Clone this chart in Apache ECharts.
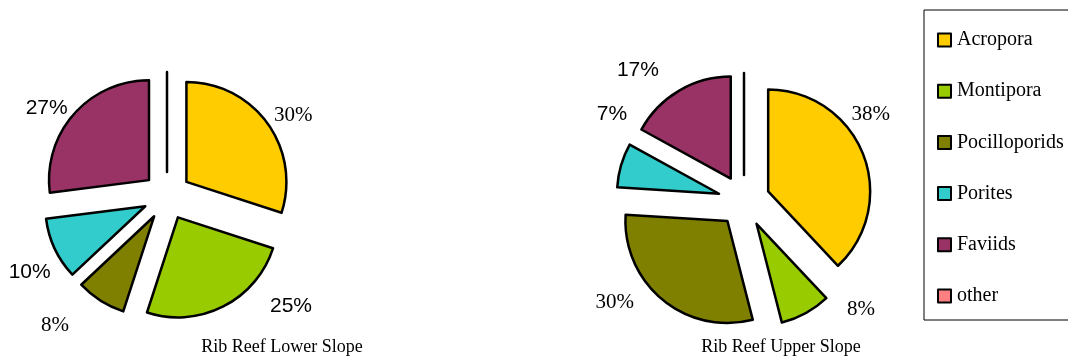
<!DOCTYPE html>
<html>
<head>
<meta charset="utf-8">
<script src="https://cdn.jsdelivr.net/npm/echarts@6/dist/echarts.min.js"></script>
<style>html,body{margin:0;padding:0;background:#fff}#c{width:1068px;height:356px}</style>
</head>
<body>
<div id="c"></div>
<script>
const categories = ['Acropora', 'Montipora', 'Pocilloporids', 'Porites', 'Faviids', 'other'];
const colors = ['#FFCC00', '#99CC00', '#808000', '#33CCCC', '#993366', '#FF8080'];
const lowerSlope = [30, 25, 8, 10, 27, 0];
const upperSlope = [38, 8, 30, 7, 17, 0];
const titles = ['Rib Reef Lower Slope', 'Rib Reef Upper Slope'];
// font of each percentage label, as printed in the source
const lowerLabelFonts = ['serif', 'sans', 'serif', 'sans', 'sans', 'sans'];
const upperLabelFonts = ['serif', 'serif', 'serif', 'sans', 'sans', 'sans'];
// label placement (style): [radial leader length, horizontal leader length] per slice
const lowerLabelPlace = [[13.4, -9.1], [0, 41.7], [29.4, 10.7], [55.6, -51.2], [8.9, -5.4], [0, 0]];
const upperLabelPlace = [[108.3, -117.1], [-4.2, 38.4], [3.1, 21.4], [183.8, -187.5], [23.6, 2.9], [0, 0]];

const SERIF = '"Liberation Serif", "Times New Roman", serif';
const SANS = '"Liberation Sans", Arial, sans-serif';

function buildData(values, fonts, place) {
  return values.map((v, i) => ({
    name: categories[i],
    value: v,
    selected: true,
    itemStyle: { color: colors[i] },
    label: {
      show: v > 0,
      fontFamily: fonts[i] === 'serif' ? SERIF : SANS
    },
    labelLine: { show: false, length: place[i][0], length2: place[i][1] }
  }));
}

function pieSeries(values, fonts, place, center, radius, offset) {
  return {
    type: 'pie',
    center: center,
    radius: radius,
    startAngle: 90,
    clockwise: true,
    selectedMode: 'multiple',
    selectedOffset: offset,
    avoidLabelOverlap: false,
    animation: false,
    silent: true,
    itemStyle: { borderColor: '#000', borderWidth: 2.5 },
    select: { itemStyle: { borderColor: '#000', borderWidth: 2.5 } },
    emphasis: { disabled: true },
    label: {
      position: 'outside',
      formatter: '{c}%',
      color: '#000',
      fontSize: 21
    },
    labelLine: { show: false },
    data: buildData(values, fonts, place)
  };
}

const chart = echarts.init(document.getElementById('c'));
chart.setOption({
  backgroundColor: '#fff',
  title: [
    { text: titles[0], left: 277, top: 333, textAlign: 'center',
      textStyle: { fontFamily: SERIF, fontSize: 18, fontWeight: 'normal', color: '#000' } },
    { text: titles[1], left: 776, top: 333, textAlign: 'center',
      textStyle: { fontFamily: SERIF, fontSize: 18, fontWeight: 'normal', color: '#000' } }
  ],
  legend: {
    orient: 'vertical',
    left: 924,
    top: 10,
    padding: [20, 60, 14, 13],
    itemGap: 31.2,
    itemWidth: 13,
    itemHeight: 13,
    icon: 'rect',
    borderColor: '#000',
    borderWidth: 1,
    data: categories,
    itemStyle: { borderColor: '#000', borderWidth: 2 },
    textStyle: { fontFamily: SERIF, fontSize: 20, lineHeight: 20, color: '#000', padding: [0, 0, 0, 1] },
    selectedMode: false
  },
  series: [
    pieSeries(lowerSlope, lowerLabelFonts, lowerLabelPlace, [167, 196], 100, 24),
    pieSeries(upperSlope, upperLabelFonts, upperLabelPlace, [744, 201], 102, 26)
  ]
});
</script>
</body>
</html>
